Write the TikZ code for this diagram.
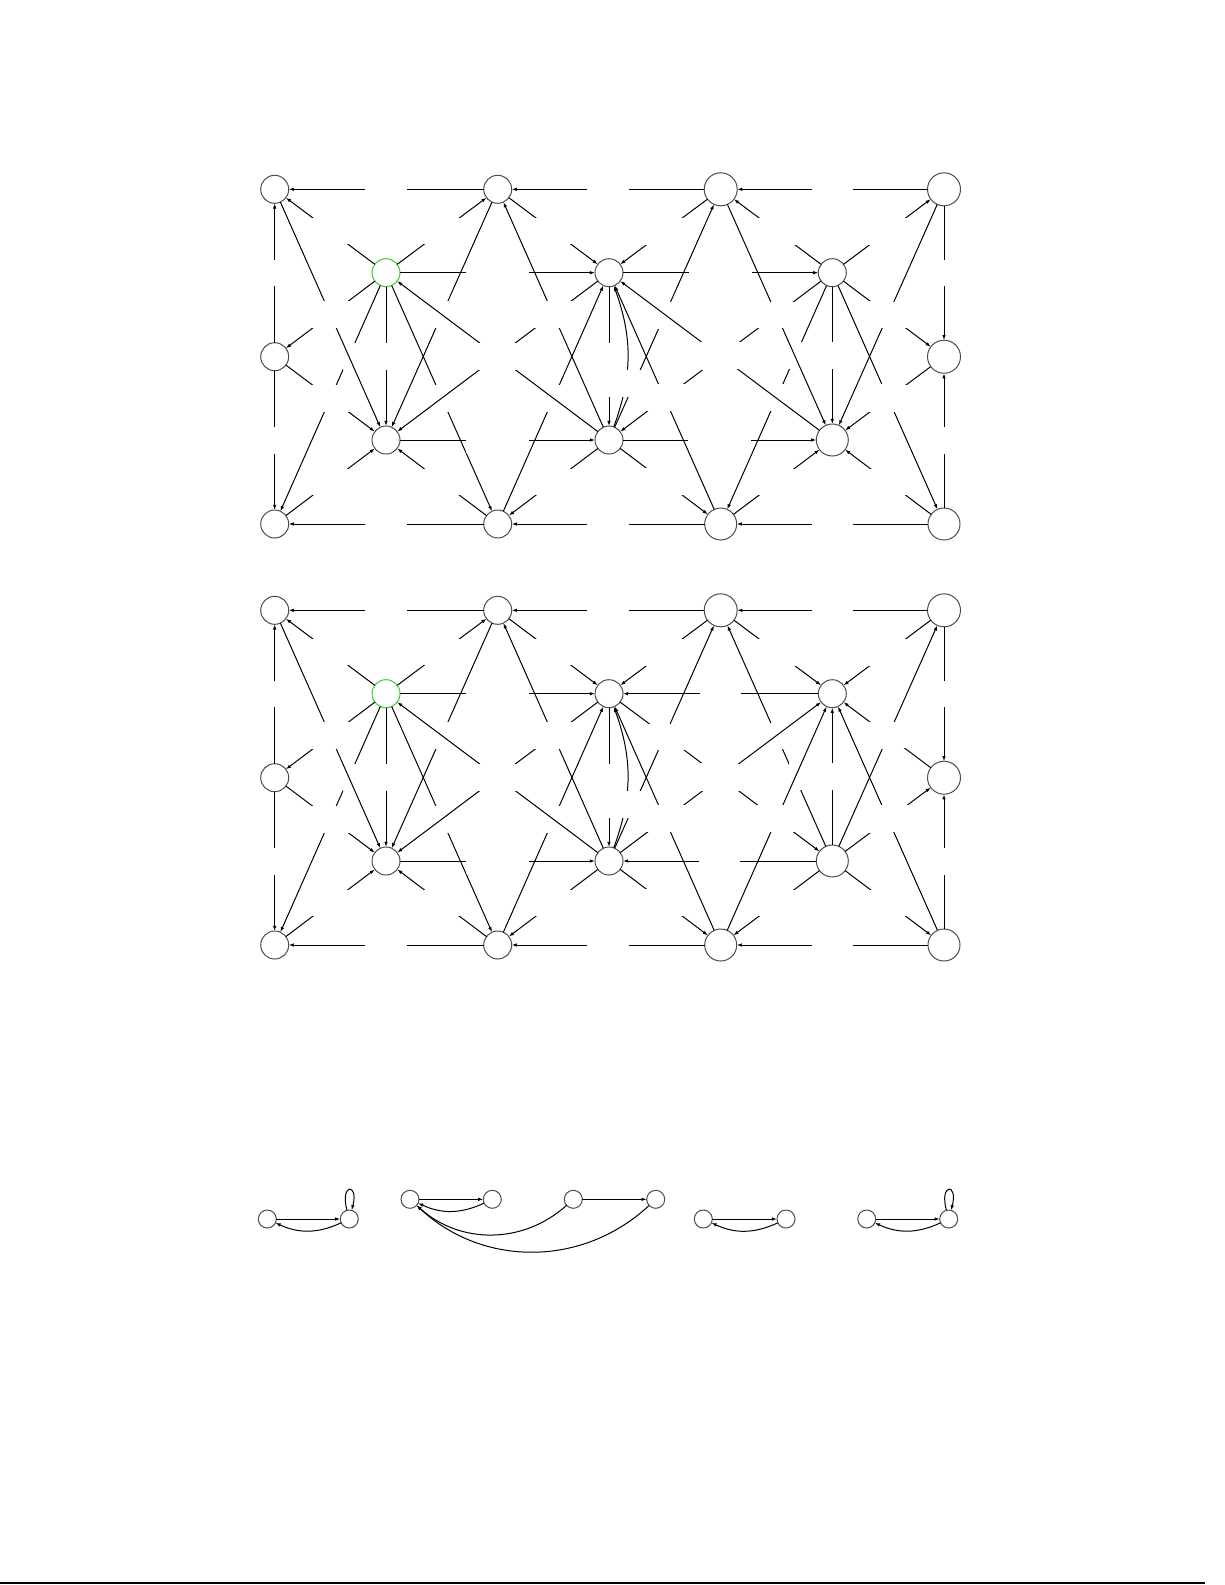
\documentclass[tikz,border=0pt]{standalone}
\usetikzlibrary{arrows.meta}
\definecolor{nodegray}{gray}{0.3}
\definecolor{startgreen}{RGB}{60,200,60}
\begin{document}
\begin{tikzpicture}[x=0.5pt,y=0.5pt,
    state/.style={circle,line width=0.5pt,fill=white,inner sep=0pt,outer sep=0pt},
    tiny/.style={state,draw=nodegray,minimum size=9pt},
    edge/.style={line width=0.5pt,-{Latex[length=2.6pt,width=1.8pt]}},
    gap/.style={fill=white,inner sep=0pt,minimum width=20.8pt,minimum height=13.3pt}]
  \useasboundingbox (0,0) rectangle (1225,-1585);

  \foreach \g/\dy in {1/0,2/421}
    \foreach \n/\x/\y/\d/\c in {a/274.7/189.3/14/nodegray, b/497.7/189.3/14/nodegray,
        c/720.7/189.3/16.5/nodegray, d/944/189.3/16.5/nodegray,
        e/386/272.7/14/startgreen, f/609/272.7/14/nodegray, g/832.3/272.7/14/nodegray,
        h/274.7/356.7/14/nodegray, i/944/356.7/16.5/nodegray,
        j/386/440/14/nodegray, k/609/440/14/nodegray, l/832.3/440/16/nodegray,
        m/274.7/524/14/nodegray, n/497.7/524/14/nodegray, o/720.7/524/16/nodegray, p/944/524/16/nodegray}
      \node[state,minimum size=\d pt,draw=\c] (\g\n) at (\x,-\y-\dy) {};

  % upper grid
  \foreach \s/\t/\w in {e/a/20.8, e/b/20.8, e/f/31.5, e/h/20.8, e/m/20.8, e/j/43, e/n/20.8,
      a/j/20.8, b/a/20.8, b/f/20.8, b/j/20.8, f/g/31.5, f/j/20.8, f/k/20.8,
      h/a/20.8, h/m/20.8, h/j/20.8, j/k/31.5, m/j/20.8, n/m/20.8, n/f/20.8, n/j/20.8,
      g/c/20.8, g/d/20.8, g/i/20.8, g/k/20.8, g/o/20.8, g/l/43, g/p/20.8,
      k/b/20.8, k/c/20.8, k/e/20.8, k/l/31.5, k/n/20.8, k/o/20.8,
      c/b/20.8, c/f/20.8, c/l/20.8, d/c/20.8, d/i/20.8, d/l/20.8, l/f/20.8, i/l/20.8,
      o/n/20.8, o/f/20.8, o/l/20.8, p/o/20.8, p/i/20.8, p/l/20.8}
    \draw[edge] (1\s) -- node[gap,minimum width=\w pt] {} (1\t);
  \draw[edge] (1k) to[bend right=20] node[gap,pos=0.3] {} (1f);

  % lower grid
  \foreach \s/\t/\w in {e/a/20.8, e/b/20.8, e/f/31.5, e/h/20.8, e/m/20.8, e/j/43, e/n/20.8,
      a/j/20.8, b/a/20.8, b/f/20.8, b/j/20.8, f/j/20.8, f/k/20.8, f/l/20.8,
      h/a/20.8, h/m/20.8, h/j/20.8, j/k/31.5, m/j/20.8, n/m/20.8, n/f/20.8, n/j/20.8,
      l/k/20.8, l/c/20.8, l/g/43, l/d/20.8, l/i/20.8, l/o/20.8, l/p/20.8,
      k/b/20.8, k/c/20.8, k/e/20.8, k/g/20.8, k/n/20.8, k/o/20.8,
      g/f/20.8, c/b/20.8, c/f/20.8, c/g/20.8, d/c/20.8, d/g/20.8, d/i/20.8, i/g/20.8,
      o/n/20.8, o/f/20.8, o/g/20.8, p/o/20.8, p/i/20.8, p/g/20.8}
    \draw[edge] (2\s) -- node[gap,minimum width=\w pt] {} (2\t);
  \draw[edge] (2k) to[bend right=20] node[gap,pos=0.3] {} (2f);

  \node[tiny] (x1) at (267.3,-1219) {};
  \node[tiny] (x2) at (349.3,-1219) {};
  \node[tiny] (y1) at (410,-1199.3) {};
  \node[tiny] (y2) at (492.3,-1199.3) {};
  \node[tiny] (y3) at (573.3,-1199.3) {};
  \node[tiny] (y4) at (655.7,-1199.3) {};
  \node[tiny] (z1) at (703.3,-1219) {};
  \node[tiny] (z2) at (786,-1219) {};
  \node[tiny] (w1) at (866.7,-1219) {};
  \node[tiny] (w2) at (948.7,-1219) {};

  \draw[edge] (x1) -- (x2);
  \draw[edge] (x2) to[bend left=25] (x1);
  \draw[edge] (x2) to[loop above] ();
  \draw[edge] (y1) -- (y2);
  \draw[edge] (y2) to[bend left=25] (y1);
  \draw[edge] (y3) -- (y4);
  \draw[edge] (y3) to[bend left=42] (y1);
  \draw[edge] (y4) to[bend left=43] (y1);
  \draw[edge] (z1) -- (z2);
  \draw[edge] (z2) to[bend left=25] (z1);
  \draw[edge] (w1) -- (w2);
  \draw[edge] (w2) to[bend left=25] (w1);
  \draw[edge] (w2) to[loop above] ();

  \draw[line width=1.4pt] (0,-1583) -- (1205,-1583);
\end{tikzpicture}
\end{document}
